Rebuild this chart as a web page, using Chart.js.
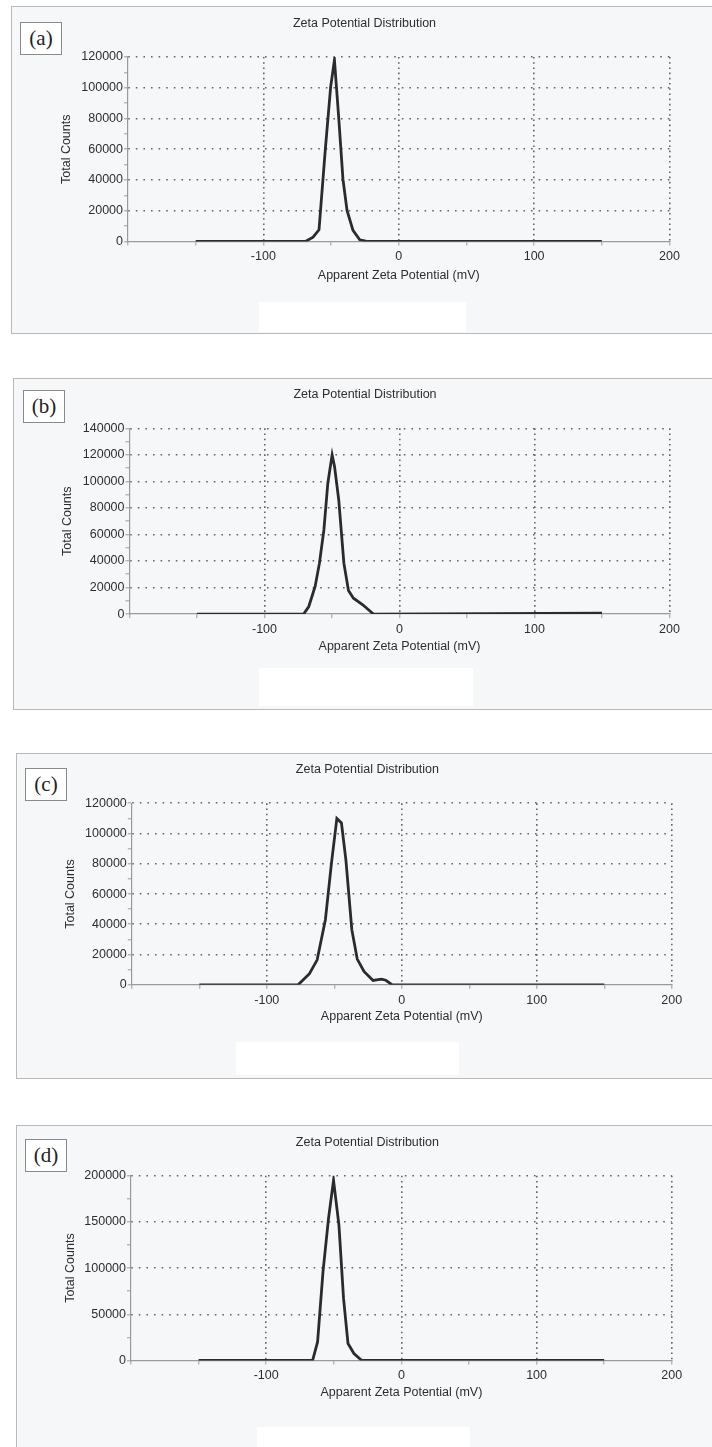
<!DOCTYPE html>
<html>
<head>
<meta charset="utf-8">
<script src="https://cdn.jsdelivr.net/npm/chart.js@4/dist/chart.umd.min.js"></script>
<style>
  body { margin: 0; background: #fff; }
  #page { position: relative; width: 712px; height: 1447px; overflow: hidden; background: #fff; }
  .frame { position: absolute; border: 1px solid #b9b9b9; background: #f6f7f9; }
  .patch { position: absolute; background: #fff; }
  .tag { position: absolute; border: 1px solid #8a8a8a; background: #fff; color: #222;
         font: 21px "Liberation Serif", "Times New Roman", serif; text-align: center; box-sizing: border-box; }
  canvas { position: absolute; left: 0; }
</style>
</head>
<body>
<div id="page"></div>
<script>
// Apparent zeta potential (mV) and total counts
const zetaA = [-150, -69, -63.3, -58.9, -54.2, -50.3, -47.5, -44.3, -41.2, -38.2, -33.8, -28.8, -22.7, 150];
const countsA = [0, 0, 2800, 7600, 60400, 100600, 118000, 80000, 40400, 20200, 7200, 1100, 0, 0];

const zetaB = [-150, -71, -67.2, -62.5, -59.3, -56, -53.1, -49.9, -48.1, -45, -41.2, -37.8, -34.1, -27.2, -19.3, 150];
const countsB = [0, 0, 5700, 20800, 38400, 63400, 98600, 120000, 111100, 86000, 38400, 17800, 12000, 7000, 0, 800];

const zetaC = [-150, -76.8, -68.4, -62.7, -56.6, -52.1, -48.1, -44.7, -41.4, -37, -33, -28, -21.3, -15.1, -11.8, -7.1, 150];
const countsC = [0, 0, 7300, 16500, 43000, 80400, 110000, 107000, 82500, 36300, 17000, 8800, 2900, 3700, 3000, 0, 0];

const zetaD = [-150, -65.7, -62, -58, -53.9, -50.2, -46.2, -42.8, -39.5, -35.1, -29.3, 150];
const countsD = [0, 0, 20100, 96000, 153800, 195000, 146600, 67200, 18400, 7600, 0, 0];

const panelTags = ["(a)", "(b)", "(c)", "(d)"];
const yMaxes = [120000, 140000, 120000, 200000];
const yMinorSteps = [10000, 10000, 10000, 25000];
const yMajorSteps = [20000, 20000, 20000, 50000];
const xTicksMajor = 100;

const FONT = 'Arial, "Liberation Sans", sans-serif';
const page = document.getElementById("page");

// layout of each scanned panel (pixels on the page)
const panels = [
  { frame: [11, 6, 720, 326], tag: [20, 22, 42, 33], patch: [259, 302, 207, 30],
    left: 128, right: 669.5, top: 57, bottom: 241, titleY: 24, xTitleY: 275, yTitleX: 67 },
  { frame: [13, 378, 720, 330], tag: [23, 390, 42, 33], patch: [259, 668, 214, 38],
    left: 129.5, right: 669.5, top: 428.3, bottom: 614.3, titleY: 395, xTitleY: 646.7, yTitleX: 68 },
  { frame: [16, 753, 720, 324], tag: [25, 768, 42, 33], patch: [236, 1042, 223, 33],
    left: 131.8, right: 671.8, top: 803.3, bottom: 985, titleY: 770, xTitleY: 1016.7, yTitleX: 70.5 },
  { frame: [16, 1125, 720, 340], tag: [25, 1139, 42, 33], patch: [257, 1427, 213, 30],
    left: 131, right: 671.8, top: 1175.7, bottom: 1360.3, titleY: 1142.3, xTitleY: 1392.3, yTitleX: 70.5 }
];

const series = [[zetaA, countsA], [zetaB, countsB], [zetaC, countsC], [zetaD, countsD]];

function box(cls, r, text) {
  const d = document.createElement("div");
  d.className = cls;
  d.style.left = r[0] + "px";
  d.style.top = r[1] + "px";
  d.style.width = r[2] + "px";
  d.style.height = r[3] + "px";
  if (text) { d.textContent = text; d.style.lineHeight = (r[3] - 2) + "px"; }
  page.appendChild(d);
  return d;
}

panels.forEach((p, i) => {
  box("frame", p.frame);
  box("patch", p.patch);
  box("tag", p.tag, panelTags[i]);

  const ct = p.frame[1];
  const size = 12.5;
  const lh = size * 1.2;
  const padL = p.yTitleX - lh / 2;
  const padR = 712 - p.right;
  const titleTop = p.titleY - ct - lh / 2;
  const titleBottom = p.top - ct - titleTop - lh;
  const xh = p.xTitleY - p.bottom + lh / 2;
  const h = Math.round(p.bottom - ct + xh);

  const canvas = document.createElement("canvas");
  canvas.width = 712;
  canvas.height = h;
  canvas.style.top = ct + "px";
  page.appendChild(canvas);

  const [xs, ys] = series[i];
  const yMax = yMaxes[i];
  const yMajor = yMajorSteps[i];

  new Chart(canvas.getContext("2d"), {
    type: "line",
    data: {
      datasets: [{
        data: xs.map((x, k) => ({ x: x, y: ys[k] })),
        borderColor: "#2b2b2b",
        borderWidth: 2.8,
        pointRadius: 0,
        tension: 0,
        fill: false
      }]
    },
    options: {
      responsive: false,
      animation: false,
      layout: { padding: { left: padL, right: padR, top: 0, bottom: 0 } },
      plugins: {
        legend: { display: false },
        tooltip: { enabled: false },
        title: {
          display: true,
          text: "Zeta Potential Distribution",
          color: "#2e2e2e",
          font: { size: size, family: FONT, weight: "normal" },
          padding: { top: titleTop, bottom: titleBottom }
        }
      },
      scales: {
        x: {
          type: "linear",
          min: -200,
          max: 200,
          afterFit: (s) => { s.height = xh; },
          ticks: {
            stepSize: 50,
            autoSkip: false,
            maxRotation: 0,
            padding: 4,
            color: "#2e2e2e",
            font: { size: size, family: FONT },
            callback: (v) => (v % xTicksMajor === 0 && v !== -200 ? String(v) : "")
          },
          grid: {
            color: (c) => (c.tick && c.tick.value % xTicksMajor === 0 && c.tick.value !== -200 ? "#666" : "rgba(0,0,0,0)"),
            lineWidth: 1.6,
            tickLength: 4,
            tickColor: "#9a9a9a",
            tickWidth: 1
          },
          border: { display: true, color: "#9a9a9a", width: 1.2, dash: [1.6, 3.6] },
          title: {
            display: true,
            text: "Apparent Zeta Potential (mV)",
            color: "#2e2e2e",
            font: { size: size, family: FONT },
            padding: 0
          }
        },
        y: {
          min: 0,
          max: yMax,
          afterFit: (s) => { s.width = p.left - padL; },
          ticks: {
            stepSize: yMinorSteps[i],
            autoSkip: false,
            padding: 1,
            color: "#2e2e2e",
            font: { size: size, family: FONT },
            callback: (v) => (v % yMajor === 0 ? String(v) : "")
          },
          grid: {
            color: (c) => (c.tick && c.tick.value % yMajor === 0 && c.tick.value !== 0 ? "#666" : "rgba(0,0,0,0)"),
            lineWidth: 1.6,
            tickLength: 4,
            tickColor: "#9a9a9a",
            tickWidth: 1
          },
          border: { display: true, color: "#9a9a9a", width: 1.2, dash: [1.6, 6] },
          title: {
            display: true,
            text: "Total Counts",
            color: "#2e2e2e",
            font: { size: size, family: FONT },
            padding: 0
          }
        }
      }
    }
  });
});
</script>
</body>
</html>
